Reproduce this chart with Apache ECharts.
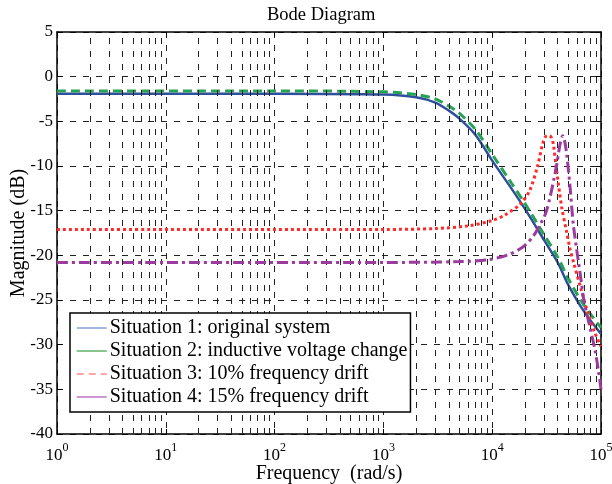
<!DOCTYPE html>
<html>
<head>
<meta charset="utf-8">
<script src="https://cdn.jsdelivr.net/npm/echarts@6/dist/echarts.min.js"></script>
<style>
  html, body { margin: 0; padding: 0; background: #fff; }
  #main { width: 612px; height: 484px; }
</style>
</head>
<body>
<div id="main"></div>
<script>
// values (frequency in rad/s, magnitude in dB)
var freq1 = [1, 10, 100, 1000, 2000, 3000, 4000, 5000, 7000, 10000, 15000, 20000, 30000, 40000, 50000, 70000, 100000];
var mag1  = [-1.9, -1.9, -1.9, -2.0, -2.3, -2.9, -3.8, -4.7, -6.5, -9.4, -12.5, -14.8, -18.3, -20.8, -23.3, -26.3, -28.8];

var freq2 = [1, 10, 100, 1000, 2000, 3000, 4000, 5000, 7000, 10000, 15000, 20000, 30000, 40000, 50000, 70000, 100000];
var mag2  = [-1.6, -1.6, -1.6, -1.7, -2.0, -2.5, -3.3, -4.1, -5.9, -8.7, -11.9, -14.2, -17.7, -20.2, -22.6, -25.6, -28.1];

var freq3 = [1, 10, 100, 1000, 3000, 6000, 10000, 13000, 18000, 22000, 26000, 29000, 31000, 33000, 35000, 36500, 39000, 43500, 48000, 52000, 56000, 66000, 76000, 88000, 100000];
var mag3  = [-17.1, -17.1, -17.1, -17.1, -17.0, -16.7, -16.1, -15.5, -14.3, -12.8, -10.1, -7.6, -6.7, -6.6, -6.8, -7.6, -10.4, -14.6, -17.2, -19.3, -20.8, -23.9, -26.5, -28.7, -30.2];

var freq4 = [1, 10, 100, 1000, 5000, 9000, 13500, 19000, 24000, 28000, 31000, 34000, 37000, 39500, 42000, 44500, 46500, 48500, 52000, 55500, 60000, 66000, 70000, 79000, 88000, 95000, 100000];
var mag4  = [-20.8, -20.8, -20.8, -20.8, -20.7, -20.5, -20.0, -19.1, -17.8, -16.4, -15.3, -13.5, -11.4, -9.6, -7.6, -6.6, -7.3, -8.8, -12.4, -16.4, -19.5, -23.0, -25.2, -28.0, -30.6, -33.0, -35.0];

var names = [
  'Situation 1: original system',
  'Situation 2: inductive voltage change',
  'Situation 3: 10% frequency drift',
  'Situation 4: 15% frequency drift'
];

// minor grid positions (2..9 in every decade)
var minorFreqs = [];
[1, 10, 100, 1000, 10000].forEach(function (d) {
  for (var k = 2; k <= 9; k++) minorFreqs.push(k * d);
});

function pairs(xs, ys) {
  return xs.map(function (x, i) { return [x, ys[i]]; });
}

var serif = 'Liberation Serif';
var gridDash = [6, 7];
var hide = { opacity: 0 };

var chart = echarts.init(document.getElementById('main'));
chart.setOption({
  animation: false,
  backgroundColor: '#fff',
  textStyle: { fontFamily: serif },
  title: {
    text: 'Bode Diagram',
    left: 262, top: 1,
    textStyle: { fontFamily: serif, fontSize: 18.5, fontWeight: 'normal', color: '#000' }
  },
  grid: { left: 57, right: 11, top: 32, bottom: 50, containLabel: false, outerBoundsMode: 'none' },
  legend: {
    orient: 'vertical',
    left: 70, top: 313,
    z: 20,
    backgroundColor: '#fff',
    borderColor: '#000',
    borderWidth: 1.5,
    borderRadius: 0,
    padding: [5, 3, 5, 6],
    itemWidth: 30, itemHeight: 14, itemGap: 3,
    textStyle: { fontFamily: serif, fontSize: 20, color: '#000', padding: [0, 0, 0, -2] },
    data: [
      { name: names[0], itemStyle: hide, lineStyle: { color: '#6a86cc', width: 1.2, type: 'solid' } },
      { name: names[1], itemStyle: hide, lineStyle: { color: '#3aa044', width: 1.2, type: 'solid' } },
      { name: names[2], itemStyle: hide, lineStyle: { color: '#ff8a8a', width: 1.5, type: [7, 5] } },
      { name: names[3], itemStyle: hide, lineStyle: { color: '#b052b0', width: 1.2, type: 'solid' } }
    ]
  },
  xAxis: [{
    type: 'log', logBase: 10, min: 1, max: 100000,
    name: 'Frequency  (rad/s)',
    nameLocation: 'middle', nameGap: 30, nameMoveOverlap: false,
    nameTextStyle: { fontFamily: serif, fontSize: 20, color: '#000' },
    axisLine: { onZero: false, lineStyle: { color: '#000', width: 1.5 } },
    axisTick: { inside: true, length: 5, lineStyle: { color: '#000' } },
    axisLabel: {
      margin: 8,
      formatter: function (v) {
        return '{b|10}{s|' + Math.round(Math.log10(v)) + '}';
      },
      rich: {
        b: { fontFamily: serif, fontSize: 17, color: '#000', lineHeight: 22, verticalAlign: 'bottom' },
        s: { fontFamily: serif, fontSize: 12, color: '#000', verticalAlign: 'top', lineHeight: 22 }
      }
    },
    splitLine: { show: true, lineStyle: { color: '#222', type: gridDash, width: 1 } }
  }, {
    type: 'log', logBase: 10, min: 1, max: 100000, position: 'top',
    axisLine: { onZero: false, lineStyle: { color: '#000', width: 1.5 } },
    axisTick: { inside: true, length: 5, lineStyle: { color: '#000' } },
    axisLabel: { show: false },
    splitLine: { show: false }
  }],
  yAxis: [{
    type: 'value', min: -40, max: 5, interval: 5,
    name: 'Magnitude (dB)',
    nameLocation: 'middle', nameGap: 28, nameRotate: 90, nameMoveOverlap: false,
    nameTextStyle: { fontFamily: serif, fontSize: 20, color: '#000' },
    axisLine: { show: true, onZero: false, lineStyle: { color: '#000', width: 1.5 } },
    axisTick: { show: true, inside: true, length: 5, lineStyle: { color: '#000' } },
    axisLabel: { fontFamily: serif, fontSize: 17, color: '#000', margin: 4 },
    splitLine: { show: true, lineStyle: { color: '#222', type: gridDash, width: 1 } }
  }, {
    type: 'value', min: -40, max: 5, interval: 5, position: 'right',
    axisLine: { show: true, onZero: false, lineStyle: { color: '#000', width: 1.5 } },
    axisTick: { show: true, inside: true, length: 5, lineStyle: { color: '#000' } },
    axisLabel: { show: false },
    splitLine: { show: false }
  }],
  series: [{
    name: 'minor-grid',
    type: 'line',
    data: [],
    silent: true,
    z: 1,
    markLine: {
      silent: true,
      symbol: 'none',
      label: { show: false },
      lineStyle: { color: '#222', type: gridDash, width: 1 },
      data: minorFreqs.map(function (f) { return { xAxis: f }; })
    }
  }, {
    name: names[0], type: 'line', symbol: 'none', smooth: 0.3, z: 3,
    data: pairs(freq1, mag1), color: '#2f4f9e',
    lineStyle: { color: '#2f4f9e', width: 2.5, type: 'solid' }
  }, {
    name: names[1], type: 'line', symbol: 'none', smooth: 0.3, z: 4,
    data: pairs(freq2, mag2), color: '#27a154',
    lineStyle: { color: '#27a154', width: 3, type: [9, 5] }
  }, {
    name: names[2], type: 'line', symbol: 'none', smooth: 0.3, z: 5,
    data: pairs(freq3, mag3), color: '#ff2a2a',
    lineStyle: { color: '#ff2a2a', width: 3, type: [3, 3] }
  }, {
    name: names[3], type: 'line', symbol: 'none', smooth: 0.3, z: 6,
    data: pairs(freq4, mag4), color: '#9b3b9e',
    lineStyle: { color: '#9b3b9e', width: 3, type: [11, 4, 3, 4] }
  }]
});
</script>
</body>
</html>
